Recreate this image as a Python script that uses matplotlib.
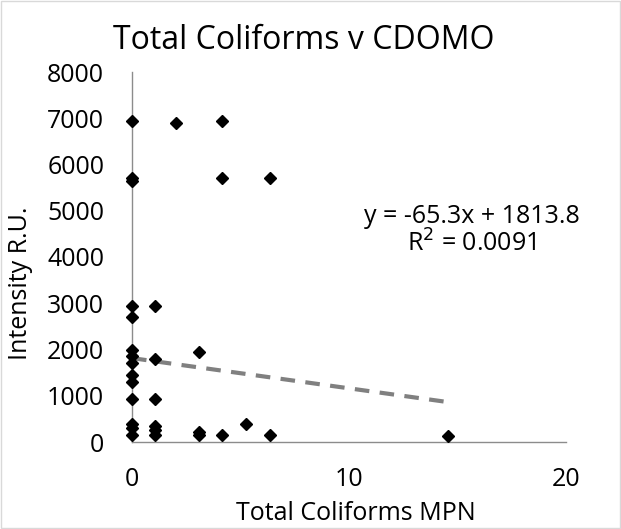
import matplotlib
matplotlib.use("Agg")
import matplotlib.pyplot as plt
import numpy as np

plt.rcParams['font.family'] = ['Open Sans', 'DejaVu Sans']

coliforms_mpn = [0, 2.05, 4.15, 0, 0, 4.15, 6.35,
                 0, 1.05, 0, 0, 0, 0, 0, 0, 1.05, 3.1,
                 0, 1.05, 0, 0, 0, 1.05, 1.05, 1.05,
                 3.1, 3.1, 4.15, 5.25, 6.35, 14.55]
intensity_ru = [6950, 6900, 6950, 5650, 5700, 5700, 5700,
                2950, 2950, 2700, 1990, 1850, 1700, 1450, 1300, 1800, 1940,
                940, 930, 400, 300, 150, 350, 250, 150,
                220, 150, 150, 390, 150, 130]

slope = -65.3
intercept = 1813.8
r_squared = 0.0091

x_ticks = [0, 10, 20]
y_ticks = [0, 1000, 2000, 3000, 4000, 5000, 6000, 7000, 8000]

W, H = 621, 529
fig = plt.figure(figsize=(W/100, H/100), dpi=100)
ax = fig.add_axes([132/W, 1-442/H, (566-132)/W, (442-72)/H])

ax.plot(coliforms_mpn, intensity_ru, linestyle='none', marker='D',
        markersize=6.5, color='black', zorder=3, clip_on=False)

xs = np.array([min(coliforms_mpn), max(coliforms_mpn)])
ax.plot(xs, slope*xs + intercept, linestyle=(0, (3.5, 2.5)), color='#808080',
        linewidth=3, zorder=2)

ax.set_xlim(0, 20)
ax.set_ylim(0, 8000)
ax.set_xticks(x_ticks)
ax.set_yticks(y_ticks)
ax.tick_params(length=0, labelsize=18, colors='black')
ax.tick_params(axis='y', pad=20)
ax.tick_params(axis='x', pad=18)
for s in ['top', 'right']:
    ax.spines[s].set_visible(False)
for s in ['left', 'bottom']:
    ax.spines[s].set_color('#8c8c8c')
    ax.spines[s].set_linewidth(1)

fig.text(356/W, 1-520/H, 'Total Coliforms MPN', ha='center', va='baseline', fontsize=18)
fig.text(21/W, 1-283/H, 'Intensity R.U.', ha='center', va='center', rotation=90, fontsize=18)
fig.text(304/W, 1-49/H, 'Total Coliforms v CDOMO', ha='center', va='baseline', fontsize=23)

fig.text(472/W, 1-223/H, f'y = {slope}x + {intercept}', ha='center', va='baseline', fontsize=18)
fig.text(472/W, 1-252/H, f'R$^2$ = {r_squared}', ha='center', va='baseline', fontsize=18)

border = plt.Rectangle((0.002, 0.002), 0.996, 0.996, transform=fig.transFigure,
                       fill=False, edgecolor='#d9d9d9', linewidth=1)
fig.patches.append(border)

fig.savefig('out.png', dpi=100)
